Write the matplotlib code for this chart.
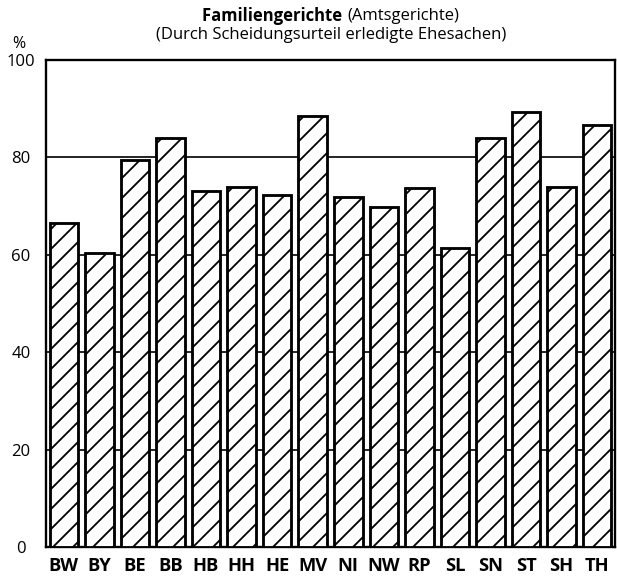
import matplotlib
matplotlib.use("Agg")
import matplotlib.pyplot as plt

laender = ["BW", "BY", "BE", "BB", "HB", "HH", "HE", "MV",
           "NI", "NW", "RP", "SL", "SN", "ST", "SH", "TH"]
anteil = [66.6, 60.3, 79.5, 83.9, 73.2, 73.9, 72.2, 88.5,
          71.8, 69.9, 73.8, 61.3, 83.9, 89.4, 73.9, 86.6]
y_ticks = [0, 20, 40, 60, 80, 100]

plt.rcParams['font.family'] = ['Open Sans', 'DejaVu Sans']
plt.rcParams['hatch.linewidth'] = 1.1

W, H, dpi = 617, 578, 120
fig = plt.figure(figsize=(W / dpi, H / dpi), dpi=dpi)
ax = fig.add_axes([46 / W, 1 - 547 / H, (615 - 46) / W, (547 - 60) / H])

x = range(len(laender))
ax.bar(x, anteil, width=0.8, color='white', edgecolor='black',
       linewidth=1.7, hatch='//', zorder=3)

for v in [20, 40, 60, 80]:
    ax.axhline(v, color='black', linewidth=1.0, zorder=1)

ax.set_xlim(-0.5, len(laender) - 0.5)
ax.set_ylim(0, 100)
ax.set_yticks(y_ticks)
ax.set_yticklabels([str(t) for t in y_ticks], fontsize=10, ha='center')
ax.tick_params(axis='y', length=0, pad=15)
ax.set_xticks(list(x))
ax.set_xticklabels(laender, fontsize=11, fontweight='bold')
ax.tick_params(axis='x', length=0, pad=6)
for s in ax.spines.values():
    s.set_linewidth(1.4)

fig.text(347 / W, 1 - 16 / H, "Familiengerichte ", ha='right', va='center',
         fontsize=10, fontweight='bold')
fig.text(347 / W, 1 - 16 / H, "(Amtsgerichte)", ha='left', va='center',
         fontsize=10)
fig.text(331 / W, 1 - 35 / H, "(Durch Scheidungsurteil erledigte Ehesachen)",
         ha='center', va='center', fontsize=10)
fig.text(19 / W, 1 - 44 / H, "%", ha='center', va='center', fontsize=9.5)

fig.savefig("out.png", dpi=dpi)
